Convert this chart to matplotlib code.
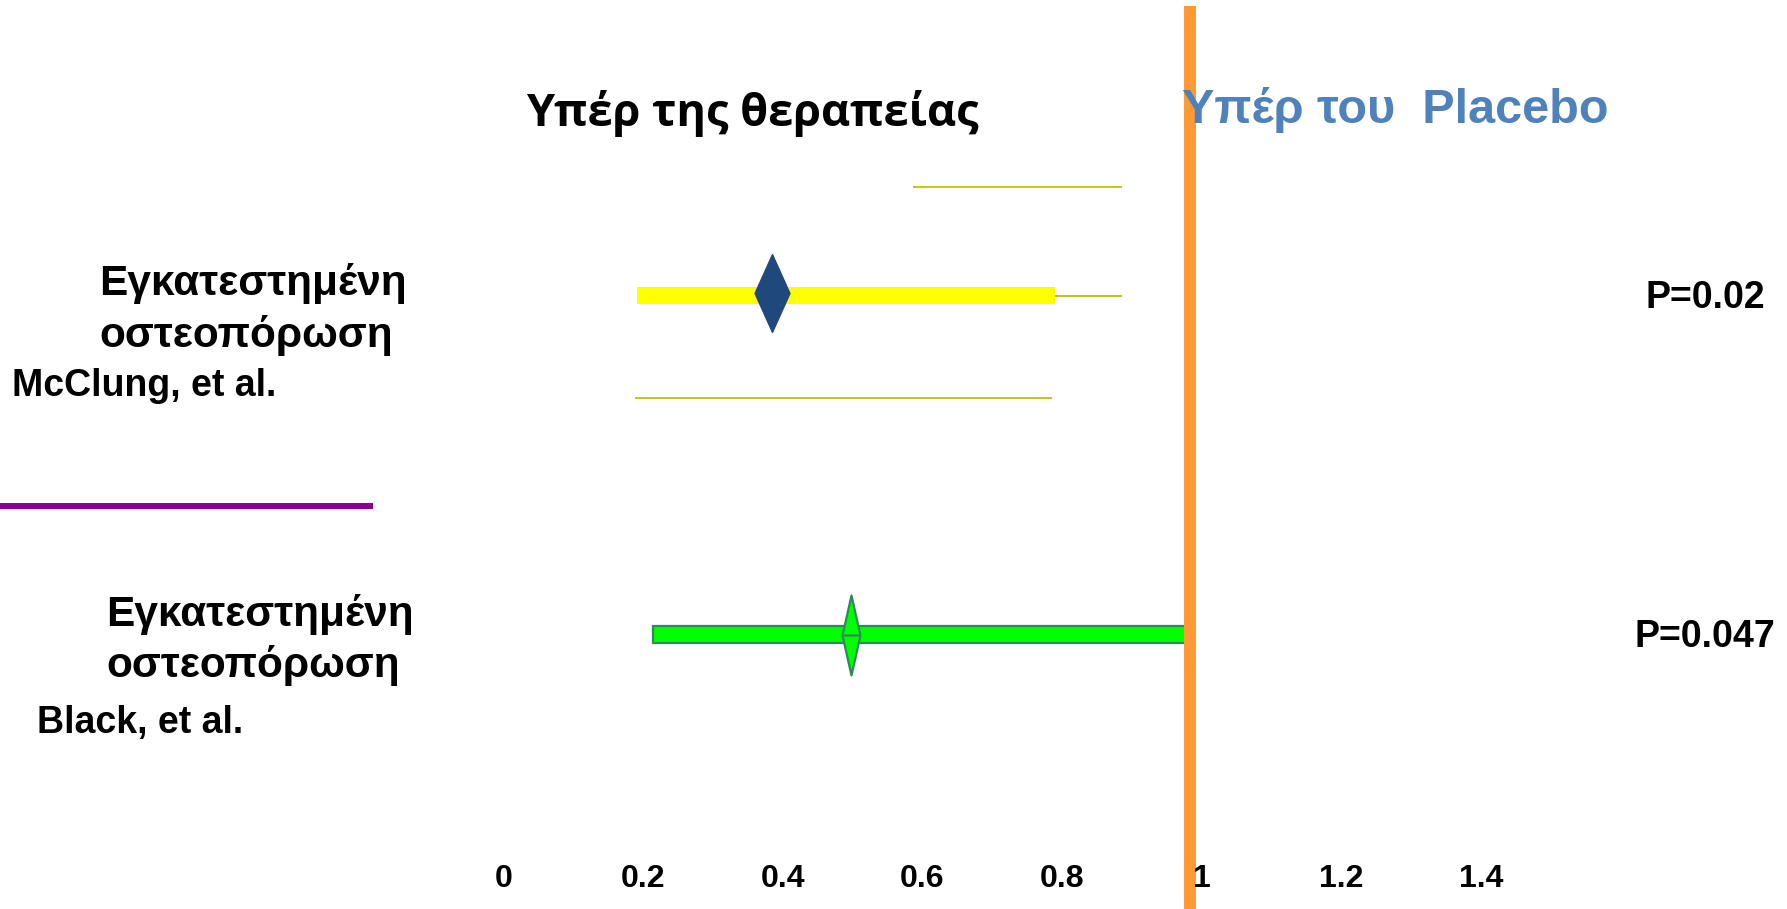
import matplotlib
matplotlib.use("Agg")
import matplotlib.pyplot as plt
import matplotlib.transforms as mtransforms
from matplotlib.path import Path

# ---- data -------------------------------------------------------------
study_names = ["McClung, et al.", "Black, et al."]
population = ["Εγκατεστημένη", "οστεοπόρωση"]
relative_risk = [0.385, 0.498]
ci_lower = [0.192, 0.215]
ci_upper = [0.790, 0.980]
p_labels = ["P=0.02", "P=0.047"]

tick_values = [0, 0.2, 0.4, 0.6, 0.8, 1.0, 1.2, 1.4]
tick_labels = ["0", "0.2", "0.4", "0.6", "0.8", "1", "1.2", "1.4"]

reference_line_x = 0.983

# thin guide segments around the first study
guide_start = [0.587, 0.790, 0.188]
guide_end = [0.886, 0.886, 0.786]

favours_treatment = "Υπέρ της θεραπείας"
favours_placebo = "Υπέρ του  Placebo"

# ---- layout -----------------------------------------------------------
W, H, DPI = 1787, 909, 100
X0_PX, PX_PER_UNIT = 503.3, 698.4
row_y = [295.5, 634.5]
marker_y = [292.5, 634.5]
bar_h = 17
guide_offsets = [-109, 0, 102]

BOLD = ["Liberation Sans", "DejaVu Sans"]

fig = plt.figure(figsize=(W / DPI, H / DPI), dpi=DPI)
fig.patch.set_facecolor("white")
ax = fig.add_axes([0, 0, 1, 1])
ax.set_xlim(-X0_PX / PX_PER_UNIT, (W - X0_PX) / PX_PER_UNIT)
ax.set_ylim(H, 0)
ax.axis("off")

# pixel-based transform for free-standing labels (origin top-left)
pix = mtransforms.Affine2D().scale(1 / W, -1 / H).translate(0, 1) + fig.transFigure


def diamond(ratio):
    verts = [(-ratio, 0), (0, 1), (ratio, 0), (0, -1), (-ratio, 0),
             (-ratio, 0), (ratio, 0)]
    codes = [Path.MOVETO, Path.LINETO, Path.LINETO, Path.LINETO, Path.CLOSEPOLY,
             Path.MOVETO, Path.LINETO]
    return Path(verts, codes)


# guide segments
ax.hlines([row_y[0] + o for o in guide_offsets], guide_start, guide_end,
          color="#C0C000", lw=1.3, zorder=1)

# confidence interval bars
ax.barh(row_y[0], ci_upper[0] - ci_lower[0], left=ci_lower[0], height=bar_h,
        color="#FFFF00", lw=0, zorder=2)
ax.barh(row_y[1], ci_upper[1] - ci_lower[1], left=ci_lower[1], height=bar_h,
        color="#00FF00", edgecolor="#2E8B57", lw=1.6, zorder=2)

# point estimates
ax.plot(relative_risk[0], marker_y[0], marker=diamond(0.45), markersize=56,
        color="#1F497D", mec="#1F497D", mew=1.0, zorder=3)
ax.plot(relative_risk[1], marker_y[1], marker=diamond(0.225), markersize=57.6,
        color="#00FF00", mec="#2E8B57", mew=1.6, zorder=3)

# reference line
ax.vlines(reference_line_x, 6, H, color="#FF9933", lw=8.6, zorder=4)

# separator between studies
ax.hlines(506, 0, 373 / W, transform=ax.get_yaxis_transform(),
          color="#8B008B", lw=4.3, zorder=2)

# x tick labels
for v, lab in zip(tick_values, tick_labels):
    ax.text(v, 887, lab, ha="center", va="baseline", family=BOLD,
            weight="bold", size=23, zorder=5)

# headings
ax.text(752, 126, favours_treatment, transform=pix, ha="center", va="baseline",
        family=["Open Sans", "DejaVu Sans"], weight="bold", size=32.5)
ax.text(1182, 123, favours_placebo, transform=pix, ha="left", va="baseline",
        family=BOLD, weight="bold", size=35, color="#4F81BD", zorder=6)

# study labels
pop_left = [99, 106]
pop_base = [(295, 347), (626, 677)]
name_left = [12, 37]
name_base = [396, 733]
for i in range(2):
    for line, yb in zip(population, pop_base[i]):
        ax.text(pop_left[i], yb, line, transform=pix, ha="left", va="baseline",
                family=BOLD, weight="bold", size=30.5)
    ax.text(name_left[i], name_base[i], study_names[i], transform=pix,
            ha="left", va="baseline", family=BOLD, weight="bold", size=27)

# p-values
p_base = [308, 647]
for lab, yb in zip(p_labels, p_base):
    ax.text(1705, yb, lab, transform=pix, ha="center", va="baseline",
            family=BOLD, weight="bold", size=27)

fig.savefig("out.png", dpi=DPI, facecolor="white")
